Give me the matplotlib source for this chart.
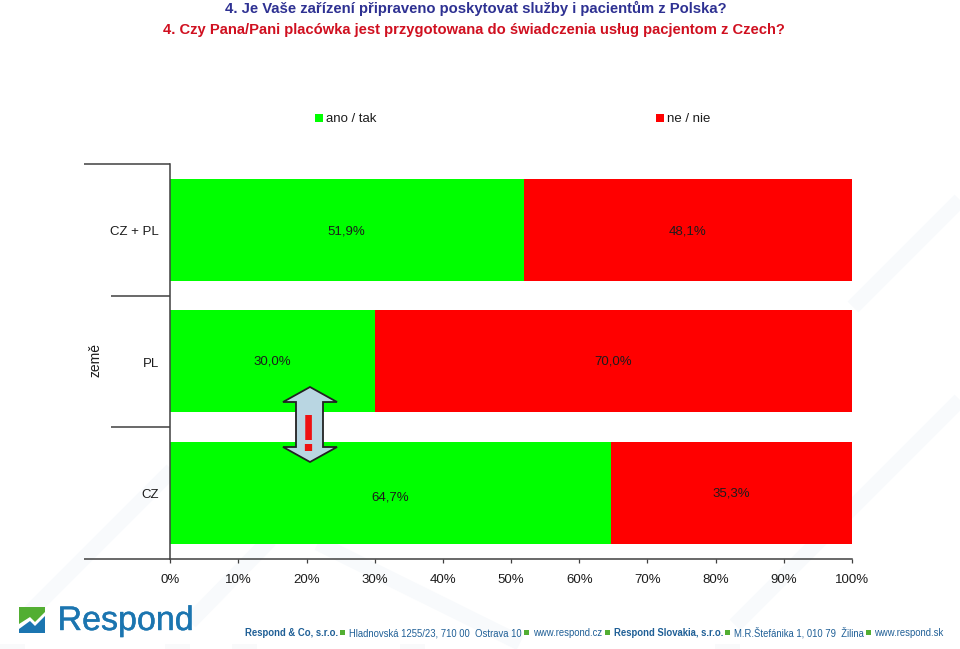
import matplotlib
matplotlib.use("Agg")
import matplotlib.pyplot as plt
import matplotlib.patheffects as pe
from matplotlib.patches import Polygon, Rectangle
from matplotlib.transforms import ScaledTranslation

categories = ["CZ", "PL", "CZ + PL"]
ano_values = [64.7, 30.0, 51.9]
ne_values = [35.3, 70.0, 48.1]
ano_labels = ["64,7%", "30,0%", "51,9%"]
ne_labels = ["35,3%", "70,0%", "48,1%"]
x_ticks = [0, 10, 20, 30, 40, 50, 60, 70, 80, 90, 100]

W, H = 960, 649
plt.rcParams["font.family"] = ["Liberation Sans", "DejaVu Sans"]
TXT = "#1c1c1c"
AXC = "#404040"

fig = plt.figure(figsize=(W / 100, H / 100), dpi=100, facecolor="white")

# faint watermark behind the chart
bg = fig.add_axes([0, 0, 1, 1], zorder=0)
bg.set_xlim(0, W)
bg.set_ylim(H, 0)
bg.axis("off")
for (x0, y0, x1, y1) in [(30, 612, 172, 470), (190, 622, 270, 540), (318, 543, 520, 643),
                         (735, 625, 960, 400), (853, 307, 960, 200)]:
    bg.plot([x0, x1], [y0, y1], color="#f8fafc", lw=11, solid_capstyle="butt")
for x in [0, 165, 232, 400, 715]:
    bg.add_patch(Rectangle((x, 644), 25, 5, fc="#f9fafb", ec="none"))

ax = fig.add_axes([170.3 / W, 1 - 558.5 / H, (852 - 170.3) / W, (558.5 - 164) / H], zorder=1)
ax.patch.set_alpha(0)
y_pos = range(len(categories))
ax.barh(y_pos, ano_values, height=0.775, color="#00ff00", label="ano / tak")
ax.barh(y_pos, ne_values, left=ano_values, height=0.775, color="#ff0000", label="ne / nie")
ax.set_xlim(0, 100)
ax.set_ylim(-0.5, 2.5)

# value labels sit slightly off centre in the original
ano_dy = [-0.035, -0.004, -0.011]
ne_dy = [-0.008, -0.004, -0.011]
for i, val in enumerate(ano_values):
    ax.text(val / 2 - 0.1, i + ano_dy[i], ano_labels[i], ha="center", va="center", fontsize=9.5, color=TXT)
    ax.text(val + ne_values[i] / 2 - 0.1, i + ne_dy[i], ne_labels[i], ha="center", va="center",
            fontsize=9.5, color=TXT)

for s in ["top", "right"]:
    ax.spines[s].set_visible(False)
for s in ["left", "bottom"]:
    ax.spines[s].set_color(AXC)
    ax.spines[s].set_linewidth(1.1)

ax.set_xticks(x_ticks)
ax.set_xticklabels([f"{t}%" for t in x_ticks], fontsize=9.5, color=TXT)
ax.tick_params(axis="x", length=3.2, width=0.9, color=AXC, pad=8)
ax.set_yticks(list(y_pos))
ax.set_yticklabels(categories, fontsize=9.5, color=TXT)
ax.tick_params(axis="y", length=0, pad=8)
shift = ScaledTranslation(0, -0.8 / 100, fig.dpi_scale_trans)
for lab in ax.get_yticklabels():
    lab.set_transform(lab.get_transform() + shift)

# category separators left of the axis
for yb in [0.5, 1.5]:
    ax.plot([-8.7, 0], [yb, yb], color=AXC, lw=1.1, clip_on=False, solid_capstyle="butt")
for yb in [-0.5, 2.5]:
    ax.plot([-12.7, 0], [yb, yb], color=AXC, lw=1.1, clip_on=False, solid_capstyle="butt")

# overlay in pixel coordinates: titles, legend, arrow, logo, footer
ov = fig.add_axes([0, 0, 1, 1], zorder=2)
ov.set_xlim(0, W)
ov.set_ylim(H, 0)
ov.axis("off")

ov.text(476, 8, "4. Je Vaše zařízení připraveno poskytovat služby i pacientům z Polska?",
        ha="center", va="center", fontsize=10.7, fontweight="bold", color="#2e3192")
ov.text(474, 30, "4. Czy Pana/Pani placówka jest przygotowana do świadczenia usług pacjentom z Czech?",
        ha="center", va="center", fontsize=10.6, fontweight="bold", color="#d01020")

ov.text(95, 360, "země", rotation=90, ha="center", va="center", fontsize=10, color=TXT)

ov.add_patch(Rectangle((315, 114), 8, 8, fc="#00ff00", ec="none"))
ov.text(326, 118.5, "ano / tak", va="center", fontsize=9.5, color=TXT)
ov.add_patch(Rectangle((656, 114), 8, 8, fc="#ff0000", ec="none"))
ov.text(667, 118.5, "ne / nie", va="center", fontsize=9.5, color=TXT)

arrow = [(310, 387), (337, 402), (323, 402), (323, 447), (337, 447), (310, 462),
         (283, 447), (296, 447), (296, 402), (283, 402)]
ov.add_patch(Polygon(arrow, closed=True, fc="#b9d6e2", ec="#222222", lw=1.3))
ov.text(308, 451, "!", ha="center", va="baseline", fontsize=37, fontweight="bold", color="#ee1111")

# logo
ov.add_patch(Polygon([(19, 607), (45, 607), (45, 612), (35, 622), (30, 617), (19, 624)],
                     closed=True, fc="#52ae32", ec="none"))
ov.add_patch(Polygon([(19, 629), (30, 621), (35, 626), (45, 616), (45, 633), (19, 633)],
                     closed=True, fc="#1b75b0", ec="none"))
ov.text(57.5, 630, "Respond", va="baseline", fontsize=24.5, color="#1b75b0",
        path_effects=[pe.withStroke(linewidth=0.3, foreground="#1b75b0")])

# footer
fc = "#1f5f96"
green = "#52ae32"
foot = [
    (245, "Respond & Co, s.r.o.", True),
    (349, "Hladnovská 1255/23, 710 00  Ostrava 10", False),
    (533, "www.respond.cz", False),
    (614, "Respond Slovakia, s.r.o.", True),
    (734, "M.R.Štefánika 1, 010 79  Žilina", False),
    (874, "www.respond.sk", False),
]
for x, s, bold in foot:
    ov.text(x, 636, s, va="baseline", fontsize=6.85, color=fc, fontweight="bold" if bold else "normal")
for x in [340, 524, 605, 725, 866]:
    ov.add_patch(Rectangle((x, 630), 5, 5, fc=green, ec="none"))

fig.savefig("out.png", dpi=100)
